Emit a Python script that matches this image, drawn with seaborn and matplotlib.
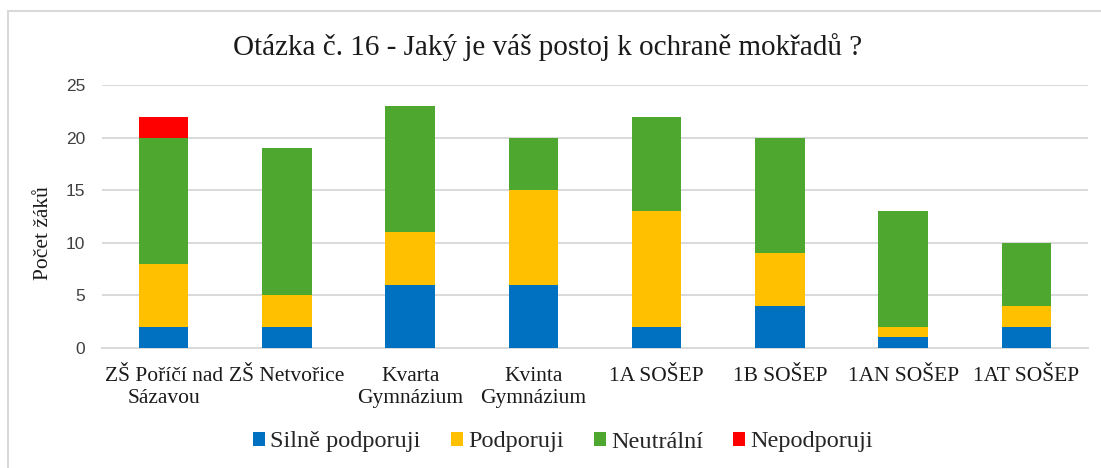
import numpy as np
import pandas as pd
import matplotlib
matplotlib.use("Agg")
import matplotlib.pyplot as plt
from matplotlib.patches import Patch, Rectangle
import seaborn as sns

categories = ["ZŠ Poříčí nad\nSázavou", "ZŠ Netvořice", "Kvarta\nGymnázium", "Kvinta\nGymnázium",
              "1A SOŠEP", "1B SOŠEP", "1AN SOŠEP", "1AT SOŠEP"]
series_names = ["Silně podporuji", "Podporuji", "Neutrální", "Nepodporuji"]
silne = [2, 2, 6, 6, 2, 4, 1, 2]
podporuji = [6, 3, 5, 9, 11, 5, 1, 2]
neutralni = [12, 14, 12, 5, 9, 11, 11, 6]
nepodporuji = [2, 0, 0, 0, 0, 0, 0, 0]
colors = ["#0070C0", "#FFC000", "#4EA72E", "#FF0000"]
title = "Otázka č. 16 - Jaký je váš postoj k ochraně mokřadů ?"
ylabel = "Počet žáků"

sns.set_theme(style="white")
serif = ["Liberation Serif", "DejaVu Serif"]
sans = ["Liberation Sans", "DejaVu Sans"]

fig = plt.figure(figsize=(11.01, 4.68), dpi=100)
ax = fig.add_axes([102/1101, 1-348/468, (1088-102)/1101, (348-85)/468])

vals = np.array([silne, podporuji, neutralni, nepodporuji], dtype=float)
cum = np.cumsum(vals, axis=0)
for i in range(3, -1, -1):
    df = pd.DataFrame({"cat": categories, "v": cum[i]})
    sns.barplot(data=df, x="cat", y="v", color=colors[i], saturation=1, width=0.4,
                order=categories, ax=ax, linewidth=0, zorder=3)

ax.set_ylim(0, 25)
ax.set_yticks([0, 5, 10, 15, 20, 25])
ax.set_xlim(-0.5, len(categories)-0.5)
ax.yaxis.grid(True, color="#D9D9D9", linewidth=1.4, zorder=0)
ax.set_axisbelow(True)
for s in ["top", "right", "left"]:
    ax.spines[s].set_visible(False)
ax.spines["bottom"].set_color("#D9D9D9")
ax.spines["bottom"].set_linewidth(1.4)
ax.tick_params(axis="both", length=0)
ax.tick_params(axis="y", pad=12)
ax.tick_params(axis="x", pad=14)
ax.set_xlabel("")
ax.set_ylabel("")
for lab in ax.get_yticklabels():
    lab.set_fontfamily(sans)
    lab.set_fontsize(12.5)
    lab.set_color("#404040")
for lab in ax.get_xticklabels():
    lab.set_fontfamily(serif)
    lab.set_fontsize(15.5)
    lab.set_color("#1a1a1a")
    lab.set_linespacing(1.2)

fig.text(44/1101, 1-233/468, ylabel, rotation=90, ha="center", va="center",
         fontsize=15.5, family=serif, color="#1a1a1a")
fig.text(548/1101, 1-47/468, title, ha="center", va="center",
         fontsize=21, family=serif, color="#1a1a1a")

handles = [Patch(facecolor=c, edgecolor="none") for c in colors]
fig.legend(handles, series_names, loc="center", bbox_to_anchor=(563/1101, 1-442/468),
           ncol=4, frameon=False, prop={"family": serif, "size": 17.5},
           handlelength=0.5, handleheight=0.5, handletextpad=0.2, columnspacing=1.25)

fig.patches.append(Rectangle((8/1101, -0.1), 1.2, 1.1-11/468, transform=fig.transFigure,
                             fill=False, edgecolor="#D9D9D9", linewidth=1.5))

fig.savefig("out.png", dpi=100)
